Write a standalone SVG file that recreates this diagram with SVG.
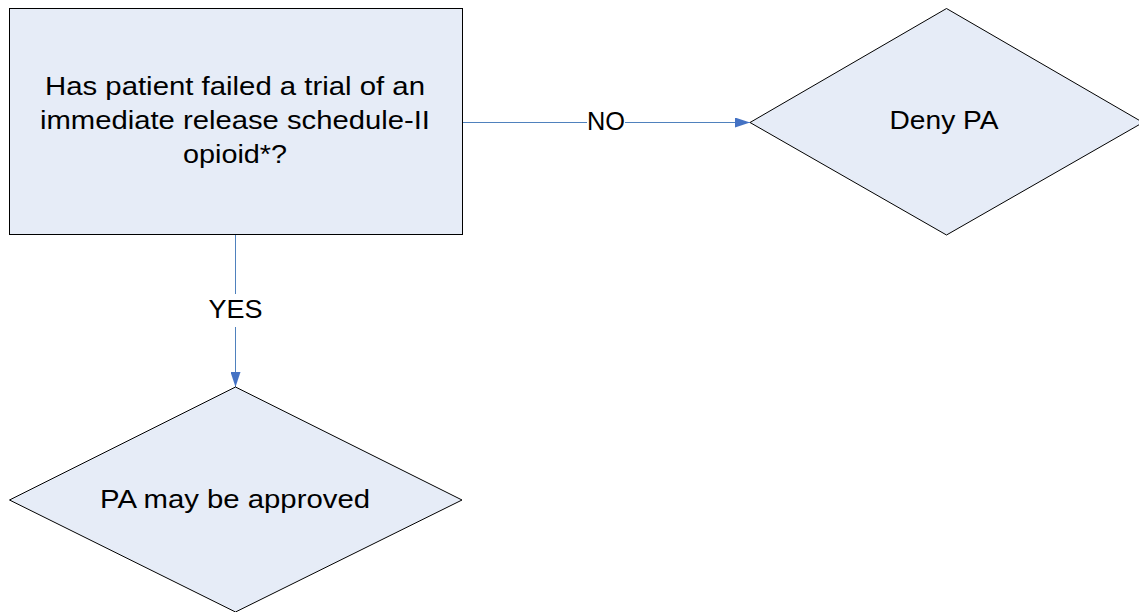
<svg xmlns="http://www.w3.org/2000/svg" width="1139" height="612" viewBox="0 0 1139 612">
<style>
.node{fill:#E6ECF7;stroke:#000;stroke-width:1}
.t{font-family:"Liberation Sans",Arial,sans-serif;font-size:25px;fill:#000;text-anchor:middle}
.c{stroke:#4F81BD;stroke-width:1;fill:none}
</style>
<defs>
<marker id="arr" markerWidth="15" markerHeight="10" refX="15" refY="5" orient="auto" markerUnits="userSpaceOnUse">
<path d="M0,0 L15,5 L0,10 Z" fill="#4472C4"/>
</marker>
</defs>
<rect width="1139" height="612" fill="#fff"/>
<g id="connectors">
<path class="c" d="M462,122.5 H750" marker-end="url(#arr)"/>
<rect x="587" y="110" width="38" height="26" fill="#fff"/>
<text class="t" x="606" y="130" textLength="38" lengthAdjust="spacingAndGlyphs">NO</text>
<path class="c" d="M235.5,235 V387" marker-end="url(#arr)"/>
<rect x="206" y="294" width="60" height="33" fill="#fff"/>
<text class="t" x="235.5" y="318" textLength="54" lengthAdjust="spacingAndGlyphs">YES</text>
</g>
<g id="n1">
<rect class="node" x="9.5" y="8.5" width="453" height="226"/>
<text class="t" x="235" y="95" textLength="380" lengthAdjust="spacingAndGlyphs">Has patient failed a trial of an</text>
<text class="t" x="235" y="129" textLength="390" lengthAdjust="spacingAndGlyphs">immediate release schedule-II</text>
<text class="t" x="235" y="163" textLength="104" lengthAdjust="spacingAndGlyphs">opioid*?</text>
</g>
<g id="n2">
<polygon class="node" points="750,122.5 946.5,8.5 1143,122.5 946.5,235"/>
<text class="t" x="944" y="129" textLength="109" lengthAdjust="spacingAndGlyphs">Deny PA</text>
</g>
<g id="n3">
<polygon class="node" points="9.5,500 235.5,387 462,500 235.5,612"/>
<text class="t" x="235" y="508" textLength="270" lengthAdjust="spacingAndGlyphs">PA may be approved</text>
</g>
</svg>
